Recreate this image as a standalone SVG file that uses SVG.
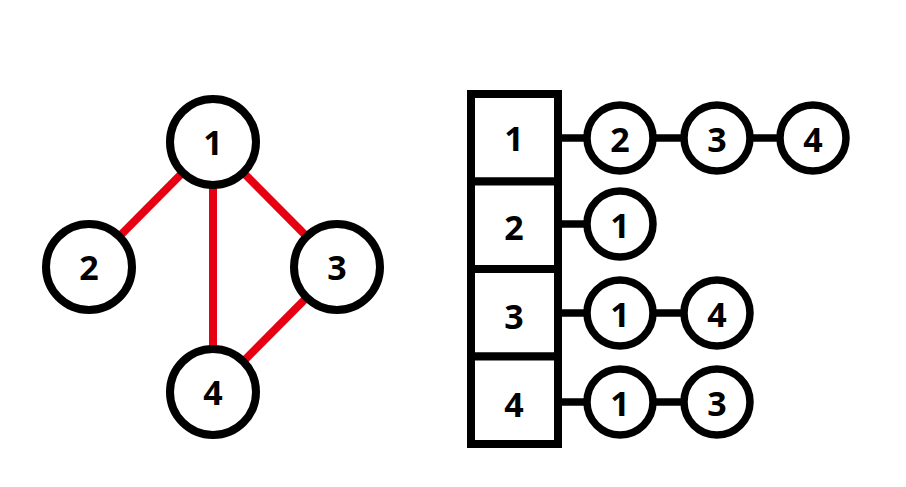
<svg xmlns="http://www.w3.org/2000/svg" width="906" height="487" viewBox="0 0 906 487">
<style>
.big{fill:#fff;stroke:#000;stroke-width:8}
.sm{fill:#fff;stroke:#000;stroke-width:7.5}
.cell{fill:#fff;stroke:#000;stroke-width:8}
.red{stroke:#e60012;stroke-width:8;fill:none}
.blk{stroke:#000;stroke-width:7.5;fill:none}
text{font-family:"Open Sans","Noto Sans",sans-serif;font-weight:700;font-size:34px;text-anchor:middle;fill:#000}
</style>
<rect width="906" height="487" fill="#fff"/>
<g id="connectors">
<line class="red" x1="213" y1="142" x2="89" y2="267"/>
<line class="red" x1="213" y1="142" x2="213" y2="392"/>
<line class="red" x1="213" y1="142" x2="337" y2="267"/>
<line class="red" x1="337" y1="267" x2="213" y2="392"/>
<line class="blk" x1="558" y1="138" x2="813" y2="138"/>
<line class="blk" x1="558" y1="224" x2="620" y2="224"/>
<line class="blk" x1="558" y1="313" x2="717" y2="313"/>
<line class="blk" x1="558" y1="402" x2="717" y2="402"/>
</g>
<g id="n1"><circle class="big" cx="213" cy="142" r="43"/><text x="213" y="155">1</text></g>
<g id="n2"><circle class="big" cx="89" cy="267" r="43"/><text x="89" y="280">2</text></g>
<g id="n3"><circle class="big" cx="337" cy="267" r="43"/><text x="337" y="280">3</text></g>
<g id="n4"><circle class="big" cx="213" cy="392" r="43"/><text x="213" y="405">4</text></g>
<g id="cell1"><rect class="cell" x="471" y="94" width="87" height="87.5"/><text x="514" y="151">1</text></g>
<g id="cell2"><rect class="cell" x="471" y="181.5" width="87" height="87.5"/><text x="514" y="240">2</text></g>
<g id="cell3"><rect class="cell" x="471" y="269" width="87" height="87.5"/><text x="514" y="329">3</text></g>
<g id="cell4"><rect class="cell" x="471" y="356.5" width="87" height="87.5"/><text x="514" y="417">4</text></g>
<g id="l1a"><circle class="sm" cx="620" cy="138" r="33"/><text x="620" y="152">2</text></g>
<g id="l1b"><circle class="sm" cx="717" cy="138" r="33"/><text x="717" y="152">3</text></g>
<g id="l1c"><circle class="sm" cx="813" cy="138" r="33"/><text x="813" y="152">4</text></g>
<g id="l2a"><circle class="sm" cx="620" cy="224" r="33"/><text x="620" y="238">1</text></g>
<g id="l3a"><circle class="sm" cx="620" cy="313" r="33"/><text x="620" y="327">1</text></g>
<g id="l3b"><circle class="sm" cx="717" cy="313" r="33"/><text x="717" y="327">4</text></g>
<g id="l4a"><circle class="sm" cx="620" cy="402" r="33"/><text x="620" y="416">1</text></g>
<g id="l4b"><circle class="sm" cx="717" cy="402" r="33"/><text x="717" y="416">3</text></g>
</svg>
